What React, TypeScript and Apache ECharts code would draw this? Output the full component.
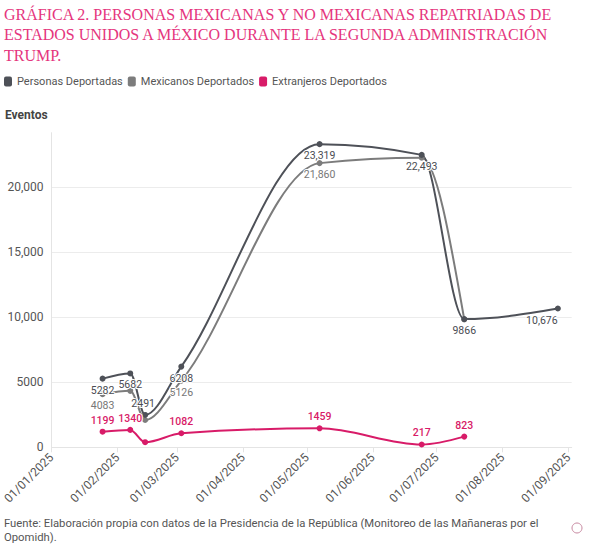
import React, { useEffect, useRef } from 'react';
import * as echarts from 'echarts';

const dates = ['2025-01-25', '2025-02-07', '2025-02-14', '2025-03-03', '2025-05-07', '2025-06-24', '2025-07-14', '2025-08-27'];
const personas: (number | null)[] = [5282, 5682, 2491, 6208, 23319, 22493, 9866, 10676];
const mexicanos: (number | null)[] = [4083, 4342, 2100, 5126, 21860, 22276, 9840, null];
const extranjeros: (number | null)[] = [1199, 1340, 391, 1082, 1459, 217, 823, null];
const seriesNames = ['Personas Deportadas', 'Mexicanos Deportados', 'Extranjeros Deportados'];
const mexicanosLabelShown = [true, false, false, true, true, false, false, false];
const extranjerosLabelShown = [true, true, false, true, true, true, true, false];

const titleText = 'GRÁFICA 2. PERSONAS MEXICANAS Y NO MEXICANAS REPATRIADAS DE\nESTADOS UNIDOS A MÉXICO DURANTE LA SEGUNDA ADMINISTRACIÓN\nTRUMP.';
const footerLines = [
  'Fuente: Elaboración propia con datos de la Presidencia de la República (Monitoreo de las Mañaneras por el',
  'Opomidh).',
];
const yAxisName = 'Eventos';

const C_PERS = '#4e5158';
const C_MEX = '#7c7c7c';
const C_EXT = '#d81b68';
const FONT = 'Roboto, "Noto Sans", sans-serif';

const fmt = (v: number) => (Math.abs(v) >= 10000 ? v.toLocaleString('en-US') : String(v));
const pad = (n: number) => (n < 10 ? '0' + n : String(n));
const ts = (s: string) => echarts.number.parseDate(s).getTime();

// monotone cubic (Fritsch–Carlson, as d3.curveMonotoneX) tangents in pixel space
function monotoneTangents(pts: number[][]): number[] {
  const n = pts.length;
  const t: number[] = new Array(n).fill(0);
  if (n < 2) return t;
  const h: number[] = [];
  const s: number[] = [];
  for (let i = 0; i < n - 1; i++) {
    h[i] = pts[i + 1][0] - pts[i][0];
    s[i] = h[i] ? (pts[i + 1][1] - pts[i][1]) / h[i] : 0;
  }
  for (let i = 1; i < n - 1; i++) {
    const s0 = s[i - 1], s1 = s[i], h0 = h[i - 1], h1 = h[i];
    const p = (s0 * h1 + s1 * h0) / (h0 + h1);
    t[i] = (Math.sign(s0) + Math.sign(s1)) * Math.min(Math.abs(s0), Math.abs(s1), 0.5 * Math.abs(p)) || 0;
  }
  if (n > 2) {
    t[0] = (3 * s[0] - t[1]) / 2;
    t[n - 1] = (3 * s[n - 2] - t[n - 2]) / 2;
  } else {
    t[0] = s[0];
    t[1] = s[0];
  }
  return t;
}

function makeRender(vals: (number | null)[], color: string) {
  return (params: any, api: any) => {
    const i = params.dataIndex;
    const idx: number[] = [];
    vals.forEach((v, k) => {
      if (v != null) idx.push(k);
    });
    const pts = idx.map((k) => api.coord([ts(dates[k]), vals[k]]));
    const t = monotoneTangents(pts);
    const j = idx.indexOf(i);
    if (j < 0 || j >= pts.length - 1) return null;
    const p0 = pts[j];
    const p1 = pts[j + 1];
    const dx = (p1[0] - p0[0]) / 3;
    return {
      type: 'bezierCurve',
      shape: {
        x1: p0[0], y1: p0[1],
        x2: p1[0], y2: p1[1],
        cpx1: p0[0] + dx, cpy1: p0[1] + dx * t[j],
        cpx2: p1[0] - dx, cpy2: p1[1] - dx * t[j + 1],
      },
      style: { stroke: color, lineWidth: 2, fill: 'none' },
    };
  };
}

export default function App() {
  const ref = useRef<HTMLDivElement>(null);
  useEffect(() => {
    if (!ref.current) return;
    const chart = echarts.init(ref.current, null, { renderer: 'svg' });
    const pData = dates.map((d, i) => {
      const item: any = { value: [d, personas[i]] };
      if (i === 2) item.label = { position: 'top', offset: [-2, 0] };
      if (i === 7) item.label = { offset: [-16, 0] };
      return item;
    });
    const mData = dates.map((d, i) => ({
      value: [d, mexicanos[i]],
      label: { show: mexicanosLabelShown[i] },
    }));
    const eData = dates.map((d, i) => ({
      value: [d, extranjeros[i]],
      label: { show: extranjerosLabelShown[i] },
    }));
    const curveData = (vals: (number | null)[]) => dates.map((d, i) => [ts(d), vals[i] == null ? 0 : vals[i]]);
    const labelFmt = (p: any) => fmt(p.value[1]);
    const lineSeries = (name: string, data: any[], color: string, labelColor: string, pos: string, z: number, weight: any) => ({
      name,
      type: 'line',
      data,
      symbol: 'circle',
      symbolSize: 6,
      lineStyle: { color, width: 0, opacity: 0 },
      itemStyle: { color },
      z,
      label: {
        show: true,
        position: pos,
        distance: 3,
        fontSize: 10.5,
        fontWeight: weight,
        color: labelColor,
        textBorderColor: '#ffffff',
        textBorderWidth: 2,
        formatter: labelFmt,
      },
    });
    const curveSeries = (vals: (number | null)[], color: string, z: number) => ({
      type: 'custom',
      silent: true,
      data: curveData(vals),
      encode: { x: 0, y: 1 },
      renderItem: makeRender(vals, color),
      z,
    });
    chart.setOption({
      animation: false,
      textStyle: { fontFamily: FONT },
      title: [
        {
          text: titleText,
          left: 4,
          top: 4,
          padding: 0,
          textStyle: {
            fontFamily: '"Liberation Serif", "DejaVu Serif", serif',
            fontSize: 16,
            fontWeight: 'normal',
            color: '#e5357d',
            lineHeight: 20.5,
          },
        },
      ],
      graphic: [
        {
          type: 'text',
          left: 5,
          top: 109,
          style: { text: yAxisName, fontFamily: FONT, fontSize: 12, fontWeight: 'bold', fill: '#444' },
        },
        {
          type: 'text',
          left: 4,
          top: 518,
          style: { text: footerLines[0], fontFamily: FONT, fontSize: 11.3, fill: '#555' },
        },
        {
          type: 'text',
          left: 4,
          top: 532,
          style: { text: footerLines[1], fontFamily: FONT, fontSize: 11.3, fill: '#555' },
        },
        {
          type: 'circle',
          shape: { cx: 577, cy: 528, r: 5 },
          style: { fill: 'none', stroke: '#c7879f', lineWidth: 1 },
        },
      ],
      legend: {
        left: 4,
        top: 76,
        padding: 0,
        itemWidth: 8,
        itemHeight: 10,
        itemGap: 5,
        icon: 'roundRect',
        textStyle: { fontSize: 11, color: '#555', fontFamily: FONT },
        data: seriesNames,
      },
      grid: { left: 50.7, right: 17.3, top: 132.7, bottom: 103.7, containLabel: false },
      xAxis: {
        type: 'time',
        min: ts('2025-01-01'),
        max: ts('2025-09-02 12:00:00'),
        minInterval: 28 * 86400000,
        maxInterval: 31 * 86400000,
        axisLine: { show: true, lineStyle: { color: '#e4e4e4' } },
        axisTick: { show: true, length: 5, lineStyle: { color: '#e4e4e4' } },
        splitLine: { show: false },
        axisLabel: {
          rotate: 45,
          fontSize: 12,
          color: '#555',
          margin: 8,
          hideOverlap: false,
          formatter: (v: number) => {
            const d = new Date(v);
            return pad(d.getDate()) + '/' + pad(d.getMonth() + 1) + '/' + d.getFullYear();
          },
        },
      },
      yAxis: {
        type: 'value',
        min: 0,
        max: 24200,
        interval: 5000,
        axisLine: { show: true, lineStyle: { color: '#e4e4e4' } },
        axisTick: { show: false },
        splitLine: {
          show: true,
          showMaxLine: false,
          lineStyle: { color: ['#ececec', '#ececec', '#ececec', '#ececec', '#ececec', 'rgba(0,0,0,0)'] },
        },
        axisLabel: {
          fontSize: 12,
          color: '#555',
          margin: 8,
          showMaxLabel: false,
          formatter: (v: number) => (v % 5000 === 0 ? fmt(v) : ''),
        },
      },
      series: [
        curveSeries(mexicanos, C_MEX, 1),
        curveSeries(personas, C_PERS, 2),
        curveSeries(extranjeros, C_EXT, 3),
        lineSeries(seriesNames[0], pData, C_PERS, '#4a4c52', 'bottom', 5, 'normal'),
        lineSeries(seriesNames[1], mData, C_MEX, '#777', 'bottom', 4, 'normal'),
        lineSeries(seriesNames[2], eData, C_EXT, C_EXT, 'top', 6, 500),
      ],
    });
    return () => chart.dispose();
  }, []);
  return (
    <div
      ref={ref}
      style={{ position: 'fixed', left: 0, top: 0, width: 589, height: 551, background: '#fff' }}
    />
  );
}
